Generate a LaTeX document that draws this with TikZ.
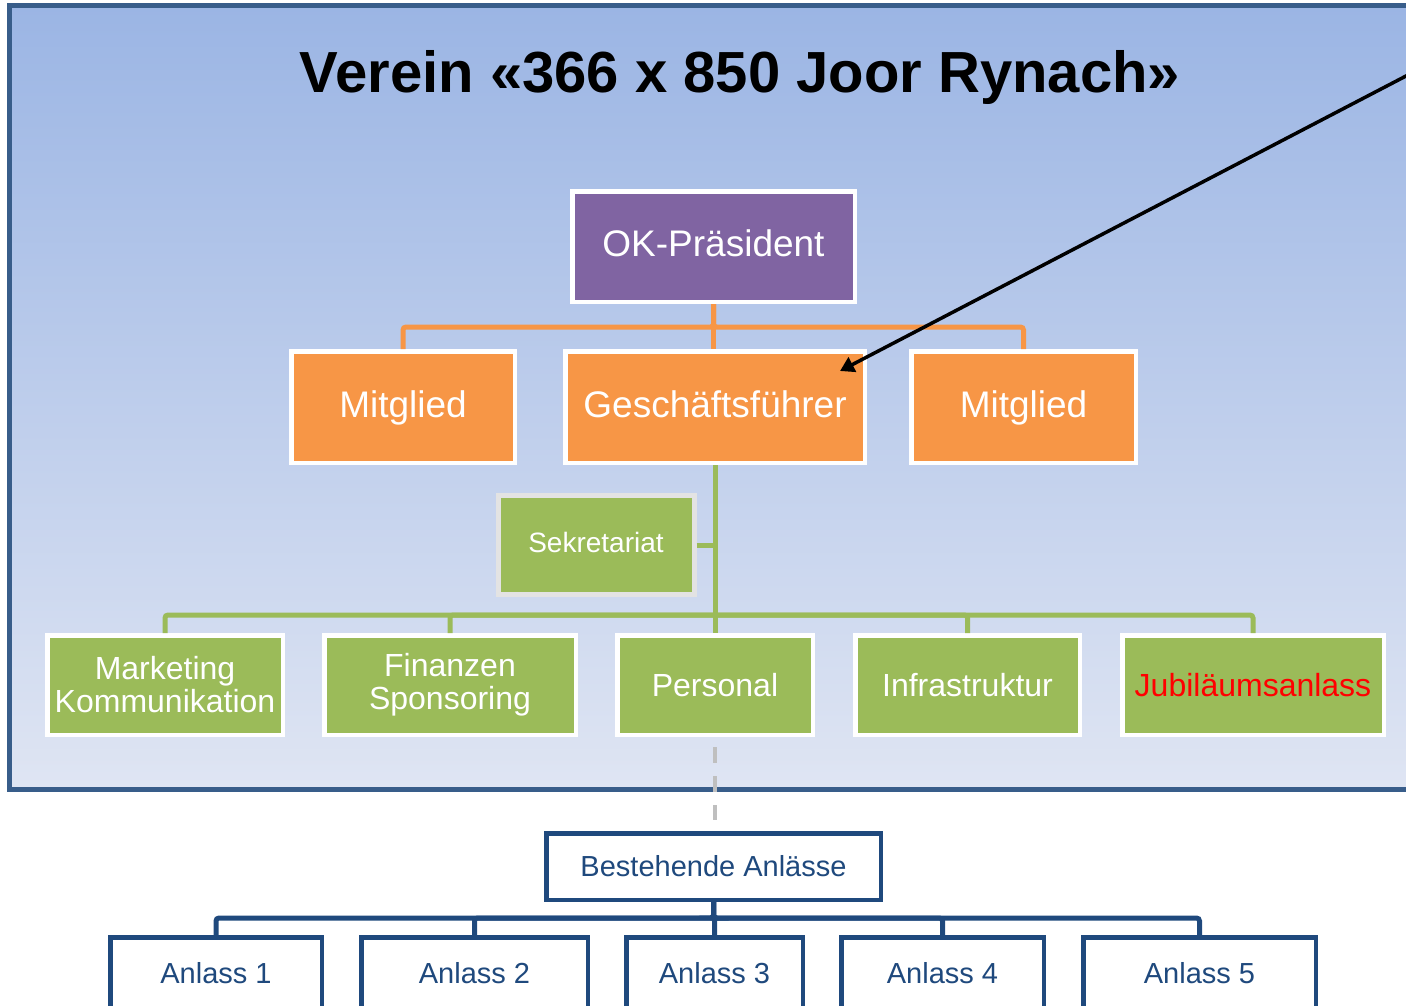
\documentclass[tikz,border=0pt]{standalone}
\usepackage{fontspec}
\setmainfont{Liberation Sans}
\usetikzlibrary{arrows.meta}

\definecolor{rahmenblau}{HTML}{385D8A}
\definecolor{verlaufoben}{HTML}{9BB5E4}
\definecolor{verlaufunten}{HTML}{DFE5F3}
\definecolor{violett}{HTML}{8064A2}
\definecolor{orange}{HTML}{F79646}
\definecolor{gruen}{HTML}{9BBB59}
\definecolor{dunkelblau}{HTML}{1F497D}
\definecolor{hellgrau}{HTML}{E3E3E3}
\definecolor{strichgrau}{HTML}{BFBFBF}

\tikzset{
	kasten/.style={draw=white, line width=4.5pt, inner sep=0pt, text=white, align=center},
	orangekasten/.style={kasten, fill=orange, minimum height=111.5pt, text height=27.75pt, text depth=7.4pt, font=\fontsize{37}{40}\selectfont},
	gruenkasten/.style={kasten, fill=gruen, minimum height=99.5pt, font=\fontsize{32}{33}\selectfont},
	blaukasten/.style={kasten, draw=dunkelblau, fill=white, text=dunkelblau, font=\fontsize{29}{32}\selectfont},
	linie/.style={line width=5pt, rounded corners=3pt},
}

\begin{document}
\begin{tikzpicture}[x=1pt, y=-1pt]
	
	\clip (0,0) rectangle (1406,1006);
	
	% Hintergrund Verein
	\draw[rahmenblau, line width=5pt, top color=verlaufoben, bottom color=verlaufunten] (9.5,6) rectangle (1430,789);
	
	% Titel
	\node[anchor=base, font=\fontsize{58}{60}\selectfont\bfseries] (titel) at (740,93) {Verein «366 x 850 Joor Rynach»};
	
	% Leitung
	\node[orangekasten, fill=violett, minimum width=282.5pt, minimum height=110.5pt] (praesident) at (713.5,246.5) {OK-Präsident};
	\node[orangekasten, minimum width=223.5pt] (mitglieda) at (403,407) {Mitglied};
	\node[orangekasten, minimum width=299.5pt] (gf) at (715,407) {Geschäftsführer};
	\node[orangekasten, minimum width=224.5pt] (mitgliedb) at (1023.5,407) {Mitglied};
	
	\draw[linie, orange] (praesident.south) -- ++(0,23) -| (mitglieda.north);
	\draw[linie, orange] (praesident.south) -- ++(0,23) -| (mitgliedb.north);
	\draw[linie, orange] (praesident.south) -- (praesident.south |- gf.north);
	
	% Sekretariat
	\node[gruenkasten, draw=hellgrau, line width=5pt, minimum width=196pt, minimum height=99pt, text height=21pt, text depth=5.6pt, font=\fontsize{28}{30}\selectfont] (sekretariat) at (596,545) {Sekretariat};
	
	% Ressorts
	\node[gruenkasten, minimum width=235.5pt] (marketing) at (165,685) {Marketing\\Kommunikation};
	\node[gruenkasten, minimum width=251.5pt] (finanzen) at (450,685) {Finanzen\\Sponsoring};
	\node[gruenkasten, minimum width=195.5pt] (personal) at (715,685) {Personal};
	\node[gruenkasten, minimum width=224.5pt] (infrastruktur) at (967.5,685) {Infrastruktur};
	\node[gruenkasten, minimum width=261.5pt, text=red] (jubilaeum) at (1253,685) {Jubiläumsanlass};
	
	\coordinate (gruenbus) at (715,615);
	\draw[linie, gruen] (gf.south) -- (personal.north);
	\draw[linie, gruen] (sekretariat.east) -- (sekretariat.east -| gf.south);
	\draw[linie, gruen] (gruenbus) -| (marketing.north);
	\draw[linie, gruen] (gruenbus) -| (finanzen.north);
	\draw[linie, gruen] (gruenbus) -| (infrastruktur.north);
	\draw[linie, gruen] (gruenbus) -| (jubilaeum.north);
	
	% Bestehende Anlaesse
	\node[blaukasten, minimum width=334.5pt, minimum height=66.5pt] (bestehend) at (713.5,866.5) {Bestehende Anlässe};
	\draw[strichgrau, line width=4pt, dash pattern=on 16pt off 13pt, shorten <=10pt, shorten >=11pt] (personal.south) -- (personal.south |- bestehend.north);
	
	\node[blaukasten, minimum width=211.5pt, minimum height=72.5pt] (anlassa) at (216,973.5) {Anlass 1};
	\node[blaukasten, minimum width=226.5pt, minimum height=72.5pt] (anlassb) at (474.5,973.5) {Anlass 2};
	\node[blaukasten, minimum width=176.5pt, minimum height=72.5pt] (anlassc) at (714.5,973.5) {Anlass 3};
	\node[blaukasten, minimum width=202.5pt, minimum height=72.5pt] (anlassd) at (942.5,973.5) {Anlass 4};
	\node[blaukasten, minimum width=232.5pt, minimum height=72.5pt] (anlasse) at (1199.5,973.5) {Anlass 5};
	
	\draw[linie, dunkelblau] (bestehend.south) -- ++(0,16) -| (anlassa.north);
	\draw[linie, dunkelblau] (bestehend.south) -- ++(0,16) -| (anlassb.north);
	\draw[linie, dunkelblau] (bestehend.south) -- ++(0,16) -| (anlassc.north);
	\draw[linie, dunkelblau] (bestehend.south) -- ++(0,16) -| (anlassd.north);
	\draw[linie, dunkelblau] (bestehend.south) -- ++(0,16) -| (anlasse.north);
	
	% Pfeil
	\coordinate (pfeilstart) at (1430,63.5);
	\coordinate (pfeilziel) at (840,371);
	\draw[line width=3.5pt, -{Triangle[length=14pt, width=16pt]}] (pfeilstart) -- (pfeilziel);
	
\end{tikzpicture}
\end{document}
